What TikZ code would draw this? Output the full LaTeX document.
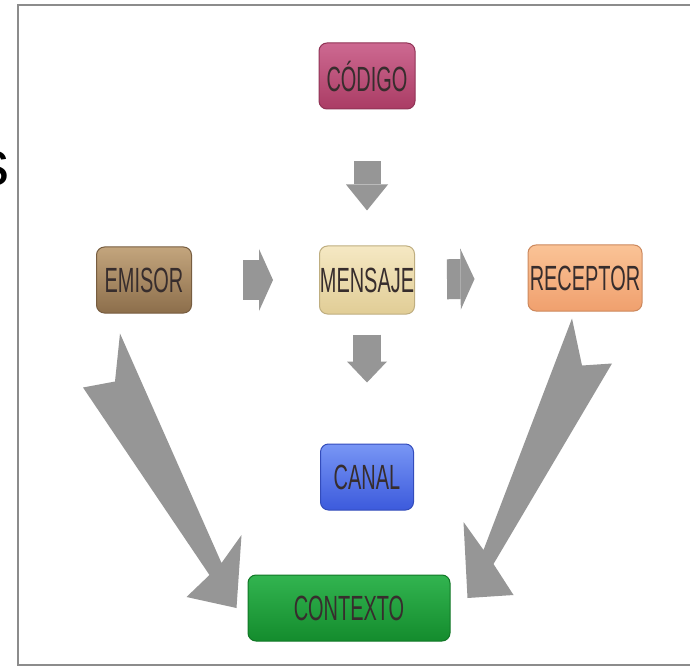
\documentclass[tikz,border=0pt]{standalone}
\usepackage{fontspec}
\newfontfamily\boxfont[FakeStretch=0.57]{Liberation Sans}
\newfontfamily\plainfont{Liberation Sans}
\usetikzlibrary{arrows.meta, calc}
\definecolor{arrowgray}{RGB}{150,150,150}
\definecolor{framegray}{RGB}{140,140,140}
\definecolor{labeltext}{RGB}{55,45,45}
\definecolor{codigotop}{RGB}{205,105,145}
\definecolor{codigobot}{RGB}{170,60,100}
\definecolor{emisortop}{RGB}{195,165,125}
\definecolor{emisorbot}{RGB}{140,110,75}
\definecolor{mensajetop}{RGB}{245,232,195}
\definecolor{mensajebot}{RGB}{225,205,150}
\definecolor{receptortop}{RGB}{250,195,150}
\definecolor{receptorbot}{RGB}{240,160,110}
\definecolor{canaltop}{RGB}{120,150,245}
\definecolor{canalbot}{RGB}{60,90,220}
\definecolor{contextotop}{RGB}{50,180,80}
\definecolor{contextobot}{RGB}{20,140,45}
\tikzset{
	box/.style={
		rectangle, 
		rounded corners=8pt, 
		minimum height=66pt, 
		inner sep=0pt, 
		text centered, 
		line width=1pt,
		text=labeltext,
		font=\boxfont\fontsize{35}{35}\selectfont
	},
	codigobox/.style={box, minimum width=96pt, top color=codigotop, bottom color=codigobot, draw=codigobot!85!black},
	emisorbox/.style={box, minimum width=95pt, top color=emisortop, bottom color=emisorbot, draw=emisorbot!85!black},
	mensajebox/.style={box, minimum width=95pt, minimum height=68pt, top color=mensajetop, bottom color=mensajebot, draw=mensajebot!85!black},
	receptorbox/.style={box, minimum width=114pt, top color=receptortop, bottom color=receptorbot, draw=receptorbot!85!black},
	canalbox/.style={box, minimum width=93pt, top color=canaltop, bottom color=canalbot, draw=canalbot!85!black},
	contextobox/.style={box, minimum width=202pt, top color=contextotop, bottom color=contextobot, draw=contextobot!85!black},
	bigarrow/.style={fill=arrowgray},
	blockarrow/.style n args={3}{draw=arrowgray, line width=#1, -{Triangle[width=#2, length=#3, line width=0pt]}}
}

\begin{document}
\begin{tikzpicture}[x=1pt, y=-1pt]
				\useasboundingbox (0,0) rectangle (690,668);
				\fill [white] (0,0) rectangle (690,668);
				\draw [framegray, line width=2.5pt] (690,5) -- (18,5) -- (18,665) -- (690,665);
				\begin{scope}
					\clip (0,0) rectangle (17,668);
					\node (stray) [anchor=base east, inner sep=0pt, font=\plainfont\fontsize{64}{64}\selectfont] at (10,186) {s};
				\end{scope}
				
				\node (codigo) [codigobox] at (367,76) {CÓDIGO};
				\node (emisor) [emisorbox] at (144,280) {EMISOR};
				\node (mensaje) [mensajebox] at (367,280) {MENSAJE};
				\node (receptor) [receptorbox] at (585,278) {RECEPTOR};
				\node (canal) [canalbox] at (367,477) {CANAL};
				\node (contexto) [contextobox] at (349,608) {CONTEXTO};
				
				\draw [blockarrow={27pt}{42pt}{26pt}, shorten <=52pt, shorten >=35pt] (codigo) -- (mensaje);
				\draw [blockarrow={28pt}{40pt}{21pt}, shorten <=20pt, shorten >=61pt] (mensaje) -- (canal);
				\draw [blockarrow={40pt}{62pt}{14pt}, shorten <=51pt, shorten >=46pt] (emisor) -- (mensaje);
				\draw [blockarrow={40pt}{61pt}{14pt}, shorten <=32pt, shorten >=53pt] (mensaje) -- (receptor);
				
				\fill [bigarrow] ($(emisor.south)+(-24,20)$) -- ($(contexto.west)+(-26,-45)$) -- ($(contexto.west)+(-6,-73)$) -- ($(contexto.west)+(-11,0)$) -- ($(contexto.west)+(-61,-11)$) -- ($(contexto.west)+(-38,-33)$) -- ($(emisor.south)+(-61,74)$) -- ($(emisor.south)+(-29,68)$) -- cycle;
				\fill [bigarrow] ($(receptor.south)+(-13,7)$) -- ($(receptor.south)+(-3,54)$) -- ($(receptor.south)+(27,52)$) -- ($(contexto.east)+(43,-44)$) -- ($(contexto.east)+(63,-13)$) -- ($(contexto.east)+(17,-10)$) -- ($(contexto.east)+(13,-86)$) -- ($(contexto.east)+(33,-58)$) -- cycle;
			\end{tikzpicture}
\end{document}
